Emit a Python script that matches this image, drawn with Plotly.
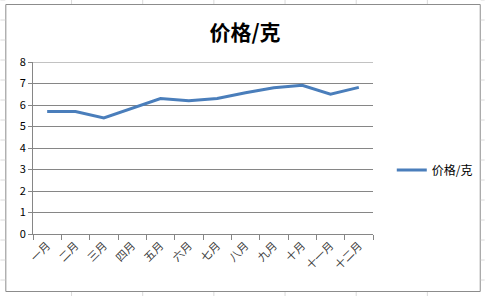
import plotly.graph_objects as go

months = ["一月", "二月", "三月", "四月", "五月", "六月", "七月", "八月", "九月", "十月", "十一月", "十二月"]
price = [5.7, 5.7, 5.4, 5.85, 6.3, 6.2, 6.3, 6.57, 6.8, 6.92, 6.5, 6.82]
series_name = "价格/克"
title_text = "价格/克"
y_max = 8

W, H = 490, 296
L, R, T, B = 33, 113, 62, 62
pw, ph = W - L - R, H - T - B

def px_x(p):
    return (p - L) / pw

def px_y(p):
    return (H - B - p) / ph

fig = go.Figure()
fig.add_trace(go.Scatter(
    x=months, y=price, mode="lines", name=series_name,
    line=dict(color="#4A7EBB", width=3),
))

shapes = []
grid_c = "#dadada"
# spreadsheet cell lines outside the chart box
for xp in [72, 144, 216, 288, 360, 432]:
    shapes.append(dict(type="line", xref="paper", yref="paper",
                       x0=px_x(xp), x1=px_x(xp), y0=px_y(0), y1=px_y(4),
                       line=dict(color=grid_c, width=1)))
    shapes.append(dict(type="line", xref="paper", yref="paper",
                       x0=px_x(xp), x1=px_x(xp), y0=px_y(292), y1=px_y(296),
                       line=dict(color=grid_c, width=1)))
for yp in range(0, 296, 20):
    shapes.append(dict(type="line", xref="paper", yref="paper",
                       x0=px_x(0), x1=px_x(5), y0=px_y(yp), y1=px_y(yp),
                       line=dict(color=grid_c, width=1)))
    shapes.append(dict(type="line", xref="paper", yref="paper",
                       x0=px_x(486), x1=px_x(490), y0=px_y(yp), y1=px_y(yp),
                       line=dict(color=grid_c, width=1)))
# chart border
shapes.append(dict(type="rect", xref="paper", yref="paper",
                   x0=px_x(5.5), x1=px_x(485.5), y0=px_y(291.5), y1=px_y(4.5),
                   line=dict(color="#8c8c8c", width=1), layer="below"))
# top gridline at max value
shapes.append(dict(type="line", xref="paper", yref="y",
                   x0=px_x(29), x1=1, y0=y_max, y1=y_max,
                   line=dict(color="#868686", width=1), layer="below"))

fig.update_layout(
    width=W, height=H,
    margin=dict(l=L, r=R, t=T, b=B),
    paper_bgcolor="white", plot_bgcolor="white",
    font=dict(family="Noto Sans CJK SC, sans-serif", color="#000000", size=11),
    title=dict(text="<b>" + title_text + "</b>", x=0.5, xref="container",
               y=1 - 33 / H, yref="container", yanchor="middle",
               font=dict(size=21, color="#000000")),
    showlegend=True,
    legend=dict(x=px_x(396), y=px_y(170), xanchor="left", yanchor="middle",
                font=dict(size=12, color="#000000"), bgcolor="rgba(0,0,0,0)",
                itemwidth=30),
    xaxis=dict(type="category", tickson="boundaries", ticks="outside", ticklen=5,
               tickcolor="#868686", showline=True, linecolor="#868686", linewidth=1,
               showgrid=False, tickangle=-45, tickfont=dict(size=11, color="#404040"),
               range=[-0.5, 11.5], fixedrange=True),
    yaxis=dict(range=[0, y_max], dtick=1, ticks="outside", ticklen=4, tickcolor="#868686",
               showline=True, linecolor="#868686", linewidth=1,
               gridcolor="#868686", gridwidth=1, zeroline=False,
               tickfont=dict(size=11, color="#000000"), fixedrange=True),
    shapes=shapes,
)

fig.write_html("out.html")
